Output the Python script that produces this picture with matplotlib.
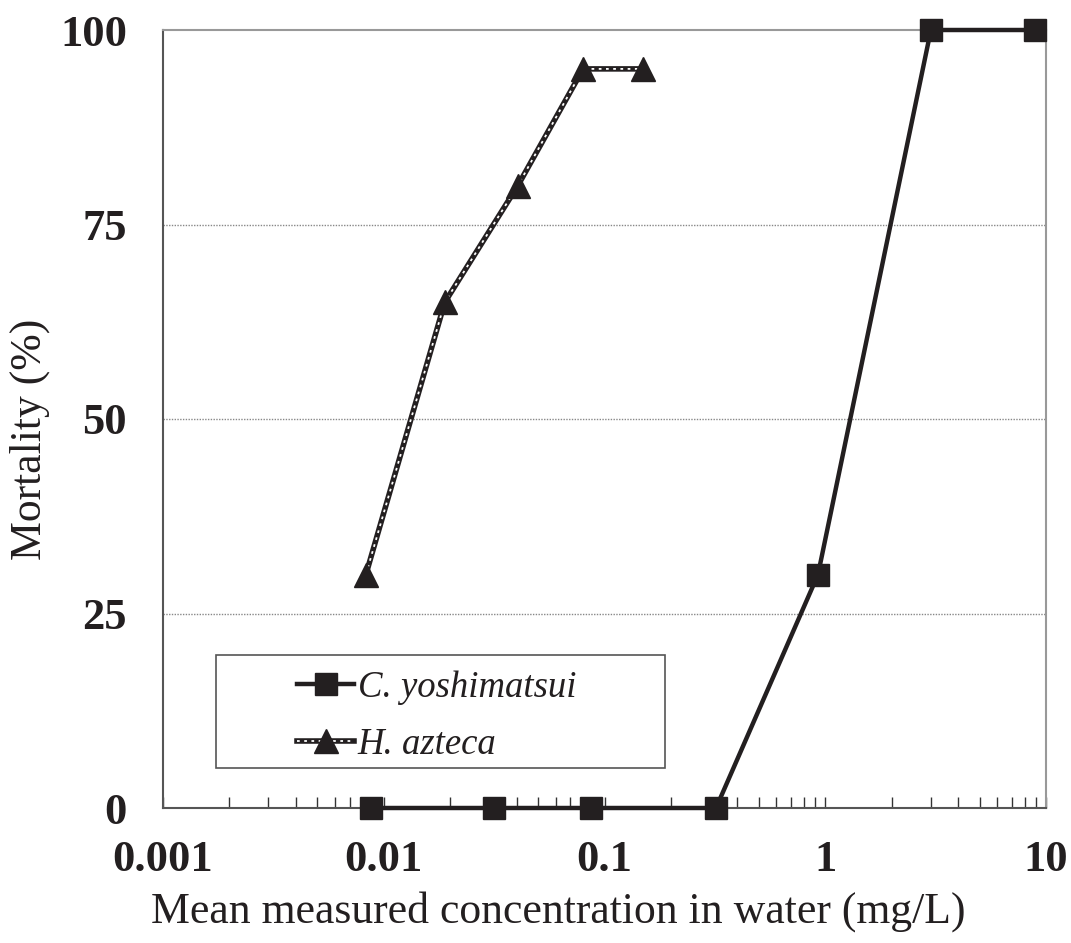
import matplotlib
matplotlib.use("Agg")
import matplotlib.pyplot as plt
from matplotlib.ticker import LogLocator, NullFormatter
from matplotlib.lines import Line2D
from matplotlib.patches import Rectangle
from matplotlib.legend_handler import HandlerTuple

# Data
cy_x = [0.00875, 0.0316, 0.087, 0.32, 0.927, 3.01, 8.9]
cy_y = [0, 0, 0, 0, 30, 100, 100]
ha_x = [0.0083, 0.0189, 0.0405, 0.080, 0.149]
ha_y = [30, 65, 80, 95, 95]
xticks = [0.001, 0.01, 0.1, 1, 10]
xticklabels = ["0.001", "0.01", "0.1", "1", "10"]
yticks = [0, 25, 50, 75, 100]
series_names = ['C. yoshimatsui', 'H. azteca']

plt.rcParams['font.family'] = ['Liberation Serif', 'DejaVu Serif']

W, H = 1071, 943
L, R, T, B = 163, 1046, 30, 808
fig = plt.figure(figsize=(W/100, H/100), dpi=100)
ax = fig.add_axes([L/W, 1-B/H, (R-L)/W, (B-T)/H])

ax.set_xscale('log')
ax.set_xlim(0.001, 10)
ax.set_ylim(0, 100)

for yv in [25, 50, 75]:
    ax.axhline(yv, color='#888888', lw=1.0, ls=(0, (1, 1)), zorder=1)

col = '#231f20'
ax.plot(cy_x, cy_y, color=col, lw=3.2, marker='s', ms=16, zorder=4, clip_on=False)
ax.plot(ha_x, ha_y, color=col, lw=4.0, zorder=3, clip_on=False)
ax.plot(ha_x, ha_y, color='white', lw=1.3, ls=(0, (1.5, 2.5)), zorder=3.2, clip_on=False)
ax.plot(ha_x, ha_y, color=col, lw=0, marker='^', ms=17.5, zorder=3.4, clip_on=False)

ax.set_xticks(xticks)
ax.set_xticklabels(xticklabels)
ax.xaxis.set_minor_locator(LogLocator(base=10, subs=range(2, 10)))
ax.xaxis.set_minor_formatter(NullFormatter())
ax.tick_params(axis='x', which='both', direction='in', length=8, width=1.0, color='#333333', pad=23)
ax.set_yticks(yticks)
ax.tick_params(axis='y', which='both', length=0, pad=26)
for lbl in ax.get_xticklabels() + ax.get_yticklabels():
    lbl.set_fontweight('bold')
    lbl.set_fontsize(32)
    lbl.set_color(col)

ax.spines['left'].set_color('#555555')
ax.spines['bottom'].set_color('#555555')
ax.spines['top'].set_color('#999999')
ax.spines['right'].set_color('#999999')
for s in ax.spines.values():
    s.set_linewidth(1.5)

ax.set_xlabel('Mean measured concentration in water (mg/L)', fontsize=31.5, color=col)
ax.set_ylabel('Mortality (%)', fontsize=31.5, color=col)
ax.xaxis.set_label_coords((558-L)/(R-L), -(912-B)/(B-T), transform=ax.transAxes)
ax.xaxis.label.set_va('center')
ax.yaxis.set_label_coords(-(L-30)/(R-L), (B-439)/(B-T), transform=ax.transAxes)
ax.yaxis.label.set_va('center')

# legend frame
ax.add_patch(Rectangle(((216-L)/(R-L), (B-768)/(B-T)), (665-216)/(R-L), (768-655)/(B-T),
                       transform=ax.transAxes, facecolor='white', edgecolor='#555555',
                       lw=1.2, zorder=5))

h1 = Line2D([], [], color=col, lw=3.2, marker='s', ms=16)
h2a = Line2D([], [], color=col, lw=4.0)
h2b = Line2D([], [], color='white', lw=1.3, ls=(0, (1.5, 2.5)))
h2c = Line2D([], [], color=col, lw=0, marker='^', ms=17.5)
leg = ax.legend([h1, (h2a, h2b, h2c)], series_names,
                handler_map={tuple: HandlerTuple(ndivide=1, pad=0)},
                loc='center left', bbox_to_anchor=((297-L)/(R-L), (B-716)/(B-T)),
                frameon=False, prop={'style': 'italic', 'size': 26.5},
                handlelength=1.55, handletextpad=0.1,
                borderpad=0, labelspacing=0.6, borderaxespad=0)
leg.set_zorder(6)
for t in leg.get_texts():
    t.set_color(col)

fig.savefig('out.png', dpi=100)
